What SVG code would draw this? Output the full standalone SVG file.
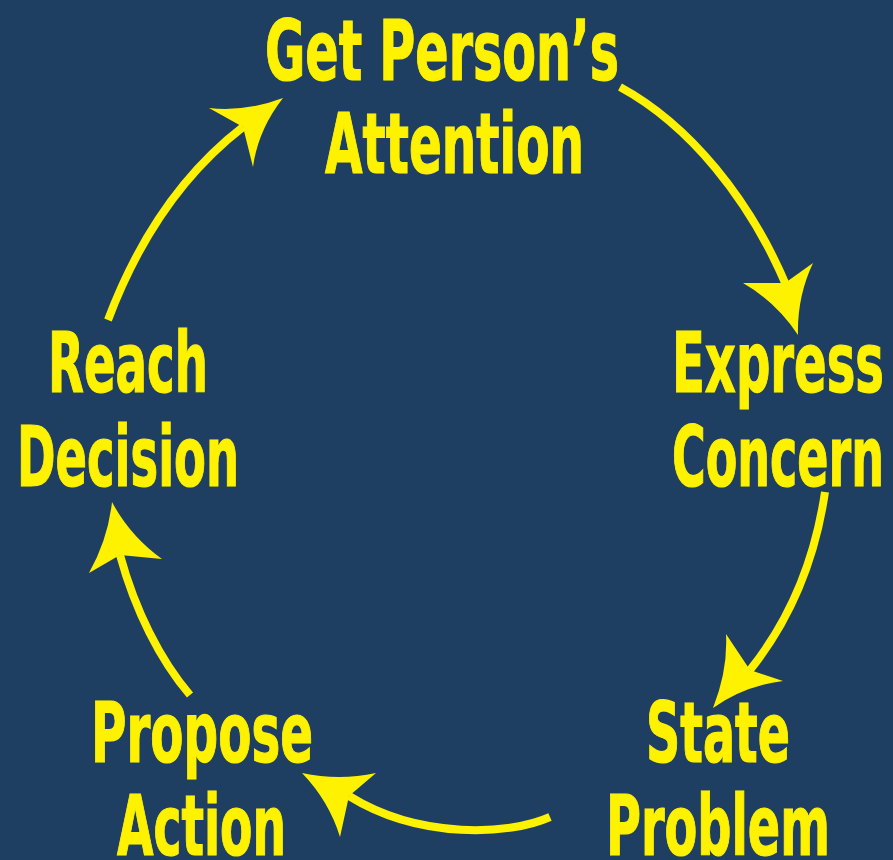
<svg xmlns="http://www.w3.org/2000/svg" width="893" height="860" viewBox="0 0 893 860">
<style>
.lbl{font-family:"Liberation Sans Narrow","DejaVu Sans Condensed","Liberation Sans",sans-serif;font-weight:bold;font-size:84px;fill:#FFF200;stroke:#FFF200;stroke-width:1.2}
.arc{fill:none;stroke:#FFF200;stroke-width:8}
.head{fill:#FFF200}
</style>
<rect width="893" height="860" fill="#1E3F62"/>
<g id="connectors">
<path class="arc" d="M620,87 C690,125 750,200 786,285"/>
<path class="head" d="M798,335 Q776,302 743,283 L785,283 L813,263 Q797,297 798,335Z"/>
<path class="arc" d="M825,492 C815,560 790,620 750,670"/>
<path class="head" d="M713,708 Q728,670 726,634 L750,670 L783,681 Q744,686 713,708Z"/>
<path class="arc" d="M550,817 C510,835 420,840 349,796"/>
<path class="head" d="M302,773 Q339,781 376,773 L349,796 L340,837 Q329,801 302,773Z"/>
<path class="arc" d="M190,695 C160,660 135,610 120,555"/>
<path class="head" d="M112,502 Q108,539 89,573 L120,555 L162,559 Q130,536 112,502Z"/>
<path class="arc" d="M108,320 Q155,195 243,127"/>
<path class="head" d="M283,98 Q246,112 209,108 L243,127 L253,167 Q258,130 283,98Z"/>
</g>
<g id="n1"><text class="lbl" x="265" y="80" textLength="354" lengthAdjust="spacingAndGlyphs">Get Person’s</text><text class="lbl" x="325" y="173" textLength="259" lengthAdjust="spacingAndGlyphs">Attention</text></g>
<g id="n2"><text class="lbl" x="672" y="392" textLength="212" lengthAdjust="spacingAndGlyphs">Express</text><text class="lbl" x="672" y="486" textLength="212" lengthAdjust="spacingAndGlyphs">Concern</text></g>
<g id="n3"><text class="lbl" x="646" y="762" textLength="144" lengthAdjust="spacingAndGlyphs">State</text><text class="lbl" x="606" y="855" textLength="224" lengthAdjust="spacingAndGlyphs">Problem</text></g>
<g id="n4"><text class="lbl" x="91" y="762" textLength="222" lengthAdjust="spacingAndGlyphs">Propose</text><text class="lbl" x="117" y="855" textLength="169" lengthAdjust="spacingAndGlyphs">Action</text></g>
<g id="n5"><text class="lbl" x="48" y="392" textLength="160" lengthAdjust="spacingAndGlyphs">Reach</text><text class="lbl" x="17" y="486" textLength="222" lengthAdjust="spacingAndGlyphs">Decision</text></g>
</svg>
